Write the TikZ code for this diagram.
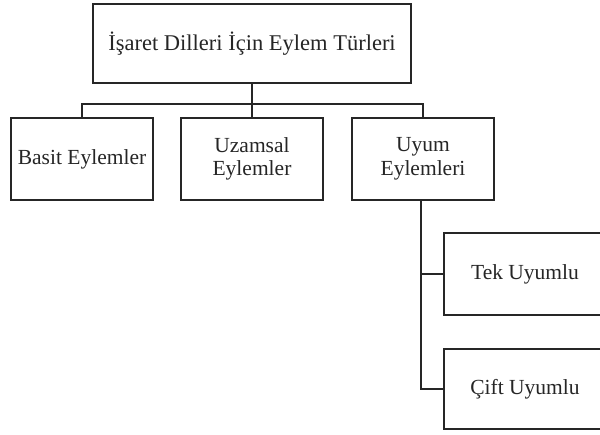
\documentclass[tikz,border=0pt]{standalone}
\usepackage{fontspec}
\setmainfont{Liberation Serif}
\begin{document}
\begin{tikzpicture}[x=1pt,y=-1pt,
  box/.style={draw=black!85,line width=1.6pt,fill=white,inner sep=0pt,align=center,
    font=\fontsize{21.5}{23.5}\selectfont,text=black!85},
  conn/.style={draw=black!85,line width=1.6pt}]
\useasboundingbox (0,0) rectangle (600,434);
\node[box,minimum width=318,minimum height=79] (top) at (252,43.5) {\fontsize{22.5}{24}\selectfont İşaret Dilleri İçin Eylem Türleri};
\node[box,minimum width=142,minimum height=82] (basit) at (82,159) {Basit Eylemler};
\node[box,minimum width=142,minimum height=82] (uzam) at (252,159) {Uzamsal\\Eylemler};
\node[box,minimum width=142,minimum height=82] (uyum) at (423,159) {Uyum\\Eylemleri};
\node[box,minimum width=162,minimum height=82] (tek) at (525,274) {Tek Uyumlu};
\node[box,minimum width=162,minimum height=80] (cift) at (525,389) {Çift Uyumlu};
\coordinate (bus) at (252,104);
\coordinate (trunk) at (421,200);
\draw[conn] (top.south) -- (uzam.north);
\draw[conn] (basit.north) -- (basit.north |- bus) -- (uyum.north |- bus) -- (uyum.north);
\draw[conn] (trunk) |- (cift.west);
\draw[conn] (trunk |- tek.west) -- (tek.west);
\end{tikzpicture}
\end{document}
